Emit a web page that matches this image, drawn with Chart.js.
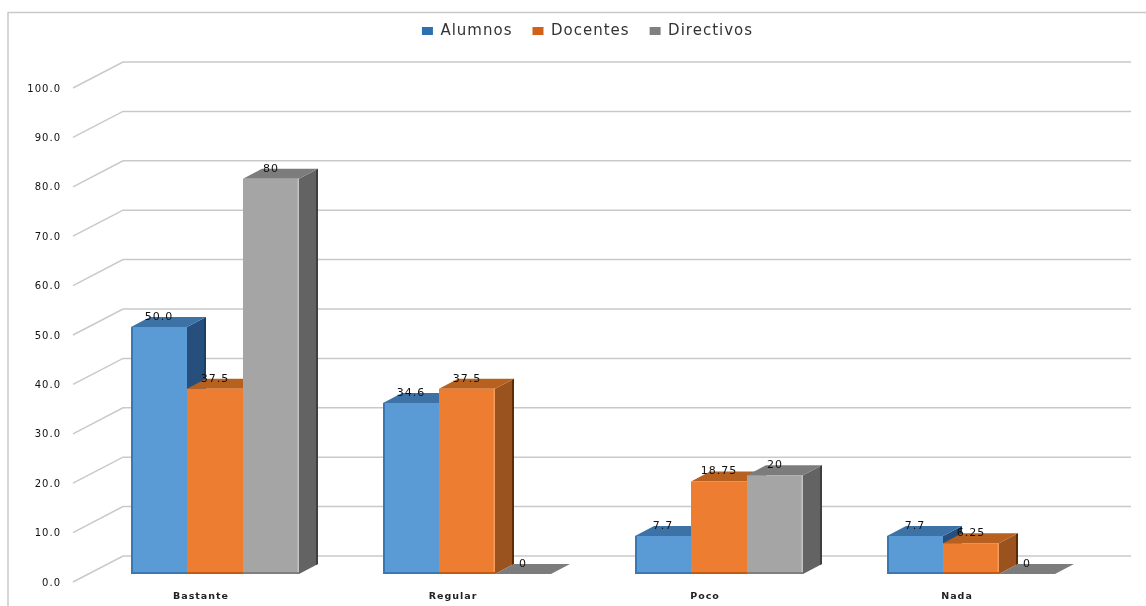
<!DOCTYPE html>
<html>
<head>
<meta charset="utf-8">
<title>Alumnos, Docentes, Directivos</title>
<script src="https://cdn.jsdelivr.net/npm/chart.js@4/dist/chart.umd.min.js"></script>
<style>
  html, body { margin: 0; background: #fff; }
  canvas { display: block; }
</style>
</head>
<body>
<canvas id="chart" width="1146" height="606"></canvas>
<script>
const categories = ['Bastante', 'Regular', 'Poco', 'Nada']
const alumnos = [50.0, 34.6, 7.7, 7.7]
const docentes = [37.5, 37.5, 18.75, 6.25]
const directivos = [80, 0, 20, 0]

// one colour set per series: front, top, side, legend swatch, edge shades
const faces = [
    { front: '#5b9bd5', top: '#3d72a6', side: '#264f7d', swatch: '#2e6fae', dark: '#3a78b4', light: '#7db2e2', back: '#1c3f66' },
    { front: '#ed7d31', top: '#b8601f', side: '#9a521f', swatch: '#d0601a', dark: '#c55a11', light: '#f59d5e', back: '#5f2a00' },
    { front: '#a5a5a5', top: '#7c7c7c', side: '#636363', swatch: '#808080', dark: '#7f7f7f', light: '#c4c4c4', back: '#3f3f3f' }
]

const GRID = '#c9c9c9'
const wall = { x: 50, y: -26 }    // floor edge to back wall
const shift = { x: 16, y: -8 }    // floor edge to front of the bars
const depth = { x: 19, y: -10 }   // thickness of a bar

function poly(ctx, pts, fill) {
    ctx.beginPath()
    pts.forEach(([x, y], i) => i ? ctx.lineTo(x, y) : ctx.moveTo(x, y))
    ctx.closePath()
    ctx.fillStyle = fill
    ctx.fill()
}

// keeps the legend band a fixed height and moves the legend over the bars
const legendBand = {
    id: 'legendBand',
    beforeLayout(chart) {
        chart.ctx.letterSpacing = '1px'
    },
    afterInit(chart) {
        const fit = chart.legend.fit
        chart.legend.fit = function () {
            fit.call(this)
            this.height = 84.5
        }
    },
    afterLayout(chart) {
        chart.legend.left += 47
        chart.legend.right += 47
    }
}

const bars3d = {
    id: 'bars3d',
    beforeDraw(chart) {
        const ctx = chart.ctx
        ctx.letterSpacing = '1px'
        ctx.save()
        ctx.strokeStyle = GRID
        ctx.lineWidth = 1.5
        ctx.beginPath()
        ctx.moveTo(8, 606)
        ctx.lineTo(8, 12.5)
        ctx.lineTo(1146, 12.5)
        ctx.stroke()
        ctx.restore()
    },
    beforeDatasetsDraw(chart) {
        const ctx = chart.ctx
        const { left, right } = chart.chartArea
        const yScale = chart.scales.y

        // walls: a slanted piece on the left, then the long line at the back
        ctx.save()
        ctx.strokeStyle = GRID
        ctx.lineWidth = 1.5
        yScale.ticks.forEach((tick) => {
            const y = yScale.getPixelForValue(tick.value)
            ctx.beginPath()
            ctx.moveTo(left, y)
            ctx.lineTo(left + wall.x, y + wall.y)
            ctx.lineTo(right + wall.x, y + wall.y)
            ctx.stroke()
        })
        ctx.restore()

        ctx.save()
        ctx.translate(shift.x, shift.y)
        categories.forEach((_, c) => {
            faces.forEach((face, s) => {
                const bar = chart.getDatasetMeta(s).data[c]
                const l = bar.x - bar.width / 2
                const r = bar.x + bar.width / 2
                const t = bar.y
                const b = bar.base
                const ex = depth.x - 2
                poly(ctx, [[r, t], [r + depth.x, t + depth.y], [r + depth.x, b + depth.y], [r, b]], face.side)
                // darker rim on the far edge of the side face
                if (b > t) poly(ctx, [[r + ex, t + depth.y + 1], [r + depth.x, t + depth.y], [r + depth.x, b + depth.y], [r + ex, b + depth.y + 1]], face.back)
                poly(ctx, [[l, t], [l + depth.x, t + depth.y], [r + depth.x, t + depth.y], [r, t]], face.top)
            })
        })
    },
    afterDatasetsDraw(chart) {
        const ctx = chart.ctx

        // thin bevel along the front faces
        categories.forEach((_, c) => {
            faces.forEach((face, s) => {
                const bar = chart.getDatasetMeta(s).data[c]
                const h = bar.base - bar.y
                if (h <= 0) return
                const l = bar.x - bar.width / 2
                ctx.fillStyle = face.dark
                ctx.fillRect(l, bar.base - 2, bar.width, 2)
                if (s === 0) ctx.fillRect(l, bar.y, 2, h)
                // light edge only where the next bar does not butt against it
                const next = chart.getDatasetMeta(s + 1)
                if (!next || !next.data.length || next.data[c].base - next.data[c].y < 1) {
                    ctx.fillStyle = face.light
                    ctx.fillRect(l + bar.width - 1.5, bar.y, 1.5, h - 2)
                }
            })
        })
        ctx.restore()

        // value labels go on last so no bar covers them
        ctx.save()
        ctx.font = '11px "DejaVu Sans"'
        ctx.fillStyle = '#111'
        ctx.textAlign = 'center'
        ctx.textBaseline = 'middle'
        chart.data.datasets.forEach((ds, s) => {
            chart.getDatasetMeta(s).data.forEach((bar, c) => {
                const text = s === 0 ? ds.data[c].toFixed(1) : String(ds.data[c])
                ctx.fillText(text, bar.x + shift.x, bar.y + shift.y - 10)
            })
        })
        ctx.restore()
    }
}

const series = [
    { label: 'Alumnos', data: alumnos },
    { label: 'Docentes', data: docentes },
    { label: 'Directivos', data: directivos }
]

new Chart(document.getElementById('chart'), {
    type: 'bar',
    data: {
        labels: categories,
        datasets: series.map((s, i) => ({
            ...s,
            backgroundColor: faces[i].front,
            clip: false,
            barPercentage: 1,
            categoryPercentage: 2 / 3
        }))
    },
    plugins: [legendBand, bars3d],
    options: {
        responsive: false,
        animation: false,
        layout: { padding: { top: 3.5, left: 0, right: 65, bottom: 0 } },
        plugins: {
            tooltip: { enabled: false },
            legend: {
                position: 'top',
                labels: {
                    boxWidth: 11,
                    boxHeight: 8,
                    padding: 20,
                    color: '#333',
                    font: { family: '"DejaVu Sans"', size: 15 },
                    generateLabels(chart) {
                        const items = Chart.defaults.plugins.legend.labels.generateLabels(chart)
                        items.forEach((item, i) => {
                            item.fillStyle = faces[i].swatch
                            item.lineWidth = 0
                        })
                        return items
                    }
                }
            }
        },
        scales: {
            x: {
                afterFit(scale) { scale.height = 24 },
                grid: { display: false, drawTicks: false },
                border: { display: false },
                ticks: {
                    padding: 9,
                    labelOffset: 2,
                    maxRotation: 0,
                    color: '#222',
                    font: { family: '"DejaVu Sans"', size: 9.5, weight: 'bold' }
                }
            },
            y: {
                min: 0,
                max: 100,
                afterFit(scale) { scale.width = 73 },
                grid: { display: false, drawTicks: false },
                border: { display: false },
                ticks: {
                    stepSize: 10,
                    padding: 12,
                    labelOffset: 1,
                    color: '#111',
                    font: { family: '"DejaVu Sans"', size: 10 },
                    callback: (value) => value.toFixed(1)
                }
            }
        }
    }
})
</script>
</body>
</html>
